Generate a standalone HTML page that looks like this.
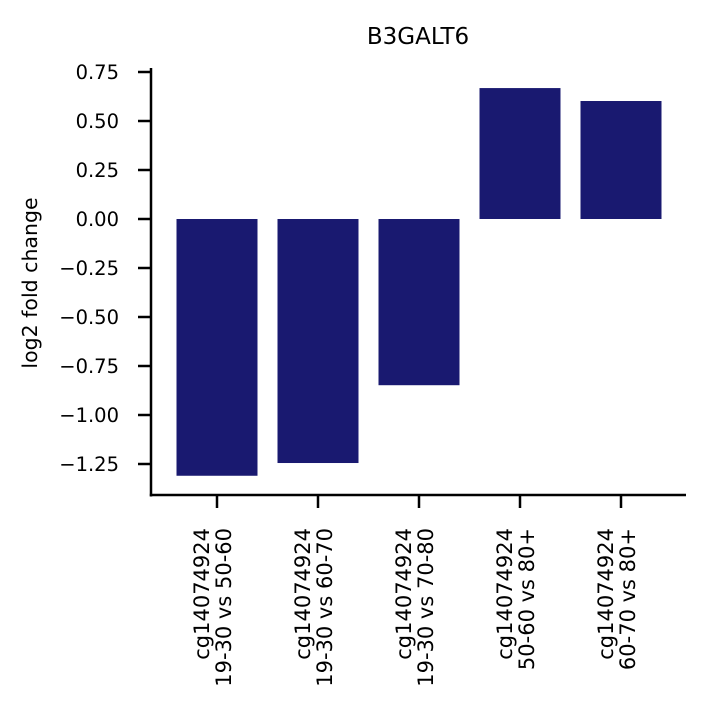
<!DOCTYPE html>
<html><head><meta charset="utf-8"><style>
body{margin:0;background:#fff;}
svg text{font-family:"DejaVu Sans","Liberation Sans",sans-serif;fill:#000;}
</style></head><body>
<svg id="chart" width="708" height="708" viewBox="0 0 708 708" xmlns="http://www.w3.org/2000/svg">
<text x="418" y="44" font-size="23" text-anchor="middle">B3GALT6</text>
<text transform="translate(37,283) rotate(-90)" font-size="20.5" text-anchor="middle">log2 fold change</text>
<g id="bars"></g>
<g id="yaxis"></g>
<g id="xaxis"></g>
</svg>
<script>
const categories = ["cg14074924\n19-30 vs 50-60","cg14074924\n19-30 vs 60-70","cg14074924\n19-30 vs 70-80","cg14074924\n50-60 vs 80+","cg14074924\n60-70 vs 80+"];
const values = [-1.31, -1.245, -0.848, 0.668, 0.602];
const yTicks = [0.75,0.5,0.25,0,-0.25,-0.5,-0.75,-1,-1.25];
const yTickLabels = ["0.75","0.50","0.25","0.00","\u22120.25","\u22120.50","\u22120.75","\u22121.00","\u22121.25"];
const plotL=151, plotR=686, plotT=68, plotB=495;
const NS="http://www.w3.org/2000/svg";
function y(v){return 219 - v*196;}
function xc(i){return 217 + i*101;}
const bw=81;
function mk(tag,attrs,parent){const e=document.createElementNS(NS,tag);for(const k in attrs)e.setAttribute(k,attrs[k]);parent.appendChild(e);return e;}
const bars=document.getElementById('bars'), ya=document.getElementById('yaxis'), xa=document.getElementById('xaxis');
values.forEach((v,i)=>{
  const r=mk('rect',{x:xc(i)-bw/2,y:Math.min(y(v),y(0)),width:bw,height:Math.abs(y(v)-y(0)),fill:'#191970'},bars);
  
  
});
const ls=mk('line',{x1:plotL,x2:plotL,y1:plotT,y2:plotB+1.5,stroke:'#000','stroke-width':2.5},ya);


yTicks.forEach((t,i)=>{
  mk('line',{x1:plotL-13,x2:plotL,y1:y(t),y2:y(t),stroke:'#000','stroke-width':2.5},ya);
  const tx=mk('text',{x:plotL-32,y:y(t)+7,'font-size':19.5,'text-anchor':'end'},ya);
  tx.textContent=yTickLabels[i];
  
  
});
const bs=mk('line',{x1:plotL-1.2,x2:plotR,y1:plotB,y2:plotB,stroke:'#000','stroke-width':2.5},xa);


categories.forEach((c,i)=>{
  mk('line',{x1:xc(i),x2:xc(i),y1:plotB,y2:plotB+13,stroke:'#000','stroke-width':2.5},xa);
  const lines=c.split('\n');
  const tx=mk('text',{transform:`translate(${xc(i)-2},${528}) rotate(-90)`,'font-size':21,'text-anchor':'end'},xa);
  
  
  lines.forEach((l,j)=>{const s=mk('tspan',{x:0,y:(j===0?-6:16)},tx);s.textContent=l;});
});
</script>
</body></html>
